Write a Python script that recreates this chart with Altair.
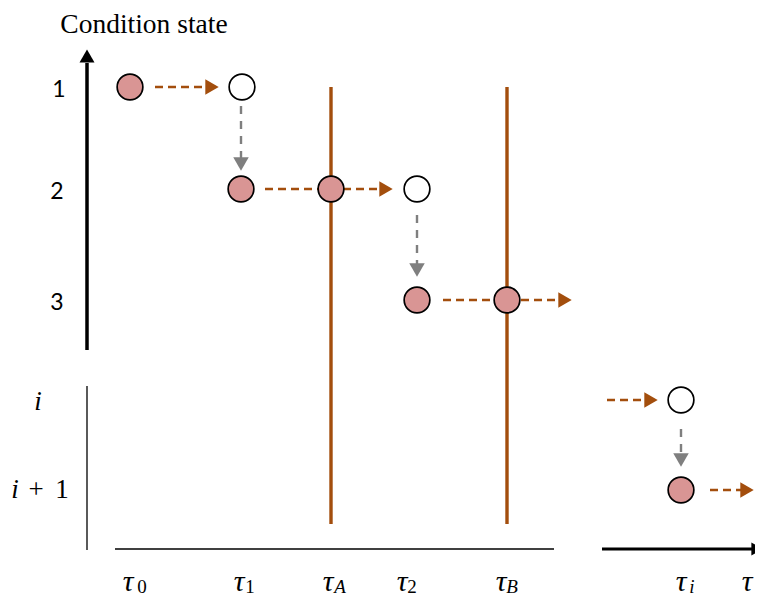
import altair as alt
import pandas as pd

# ---------------- data (diagram coordinates of the 763x605 frame) ----------------
# condition-state nodes
node_x = [130, 242, 241, 331, 417, 417, 507, 681, 681]
node_y = [87, 87, 189, 189, 189, 300, 300, 400, 490]
node_kind = ["occupied", "empty", "occupied", "occupied", "empty",
             "occupied", "occupied", "empty", "occupied"]

# sojourn arrows (orange, dashed, horizontal)
soj_x1 = [155, 265, 443, 607, 710]
soj_head = [212, 386, 565, 651, 747]
soj_y = [87, 189, 300, 400, 490]

# transition arrows (grey, dashed, vertical)
tr_x = [241, 417, 681]
tr_y1 = [106, 215, 429]
tr_head = [164, 270, 460]

# inspection instants (orange solid verticals)
insp_x = [331, 507]
insp_y1 = [87, 87]
insp_y2 = [524, 524]

# axes pieces
ax_x1 = [87, 87, 115, 602]
ax_x2 = [87, 87, 554, 760]
ax_y1 = [63, 386, 549, 549]
ax_y2 = [350, 550, 549, 549]
ax_w = [3.5, 1.3, 1.5, 3.2]

# state labels
state_text = ["1", "2", "3"]
state_tx = [59, 57, 57]
state_ty = [97, 199, 310]
gen_i_x = [38, 15]
gen_i_y = [410, 498]
plus_text = ["+", "1"]
plus_x = [36, 62]
plus_y = [498, 498]

# time labels
tau_x = [128, 239, 328, 402, 501, 681, 747]
tau_y = 597
sub_digit_text = ["0", "1", "2"]
sub_digit_x = [142, 250, 412]
sub_letter_text = ["A", "B", "i"]
sub_letter_x = [340, 512, 692]
sub_y = 597

title_text = "Condition state"

ORANGE = "#A34E0D"
PINK = "#D99594"
GREY = "#7F7F7F"

xs = alt.Scale(domain=[8, 755])
ys = alt.Scale(domain=[8, 597], reverse=True)


def X(f):
    return alt.X(f, type="quantitative", scale=xs, axis=None)


def Y(f):
    return alt.Y(f, type="quantitative", scale=ys, axis=None)


# ---------------- layers ----------------
insp = alt.Chart(pd.DataFrame({"x": insp_x, "y": insp_y1, "y2": insp_y2})).mark_rule(
    color=ORANGE, strokeWidth=3.4).encode(x=X("x"), y=Y("y"), y2="y2")

soj_df = pd.DataFrame({"x": soj_x1, "x2": [h - 4 for h in soj_head], "y": soj_y, "h": soj_head})
soj = alt.Chart(soj_df).mark_rule(color=ORANGE, strokeWidth=2.4, strokeDash=[8, 5]).encode(
    x=X("x"), x2="x2", y=Y("y"), y2="y")
soj_h = alt.Chart(soj_df).mark_point(shape="triangle-right", filled=True, size=240,
                                     color=ORANGE, opacity=1).encode(x=X("h"), y=Y("y"))

tr_df = pd.DataFrame({"x": tr_x, "y": tr_y1, "y2": [h - 4 for h in tr_head], "h": tr_head})
tr = alt.Chart(tr_df).mark_rule(color=GREY, strokeWidth=2.4, strokeDash=[8, 7]).encode(
    x=X("x"), y=Y("y"), y2="y2")
tr_h = alt.Chart(tr_df).mark_point(shape="triangle-down", filled=True, size=240,
                                   color=GREY, opacity=1).encode(x=X("x"), y=Y("h"))

nodes = alt.Chart(pd.DataFrame({"x": node_x, "y": node_y, "k": node_kind})).mark_circle(
    size=660, stroke="black", strokeWidth=1.7, opacity=1).encode(
    x=X("x"), y=Y("y"),
    fill=alt.Fill("k:N", scale=alt.Scale(domain=["occupied", "empty"], range=[PINK, "white"]),
                  legend=None))

ax_df = pd.DataFrame({"x": ax_x1, "x2": ax_x2, "y": ax_y1, "y2": ax_y2, "w": ax_w})
axes = alt.Chart(ax_df).mark_rule(color="black").encode(
    x=X("x"), x2="x2", y=Y("y"), y2="y2",
    strokeWidth=alt.StrokeWidth("w:Q", scale=None, legend=None))
ax_up = alt.Chart(pd.DataFrame({"x": [87], "y": [56]})).mark_point(
    shape="triangle-up", filled=True, size=225, color="black", opacity=1).encode(x=X("x"), y=Y("y"))
ax_right = alt.Chart(pd.DataFrame({"x": [757], "y": [549]})).mark_point(
    shape="triangle-right", filled=True, size=170, color="black", opacity=1).encode(x=X("x"), y=Y("y"))

title = alt.Chart(pd.DataFrame({"x": [144], "y": [33], "t": [title_text]})).mark_text(
    font="Liberation Serif", fontSize=27.5, baseline="alphabetic", align="center", color="black").encode(
    x=X("x"), y=Y("y"), text="t:N")

states = alt.Chart(pd.DataFrame({"x": state_tx, "y": state_ty, "t": state_text})).mark_text(
    font="Lato", fontSize=23, baseline="alphabetic", align="center", color="black").encode(
    x=X("x"), y=Y("y"), text="t:N")
gen_i = alt.Chart(pd.DataFrame({"x": gen_i_x, "y": gen_i_y, "t": ["i", "i"]})).mark_text(
    font="Liberation Serif", fontSize=27, fontStyle="italic", baseline="alphabetic",
    align="center", color="black").encode(x=X("x"), y=Y("y"), text="t:N")
plus = alt.Chart(pd.DataFrame({"x": plus_x, "y": plus_y, "t": plus_text})).mark_text(
    font="Liberation Serif", fontSize=27, baseline="alphabetic", align="center", color="black").encode(
    x=X("x"), y=Y("y"), text="t:N")

taus = alt.Chart(pd.DataFrame({"x": tau_x, "y": [tau_y] * len(tau_x), "t": ["τ"] * len(tau_x)})).mark_text(
    font="Liberation Serif", fontSize=30, fontStyle="italic", baseline="bottom",
    align="center", color="black").encode(x=X("x"), y=Y("y"), text="t:N")
sub_d = alt.Chart(pd.DataFrame({"x": sub_digit_x, "y": [sub_y] * 3, "t": sub_digit_text})).mark_text(
    font="Liberation Serif", fontSize=19, baseline="bottom", align="center", color="black").encode(
    x=X("x"), y=Y("y"), text="t:N")
sub_l = alt.Chart(pd.DataFrame({"x": sub_letter_x, "y": [sub_y] * 3, "t": sub_letter_text})).mark_text(
    font="Liberation Serif", fontSize=19, fontStyle="italic", baseline="bottom",
    align="center", color="black").encode(x=X("x"), y=Y("y"), text="t:N")

chart = alt.layer(
    insp, soj, tr, soj_h, tr_h, nodes, axes, ax_up, ax_right,
    title, states, gen_i, plus, taus, sub_d, sub_l
).properties(
    width=747, height=589, padding=0, background="white",
    autosize=alt.AutoSizeParams(type="none")
).configure_view(stroke=None)

chart.save("out.html", embed_options={"renderer": "svg", "actions": False})
